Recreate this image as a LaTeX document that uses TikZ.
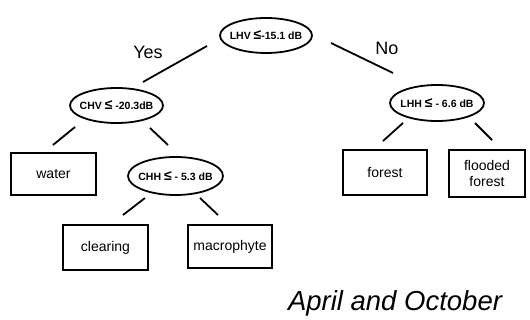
\documentclass[tikz,border=0pt]{standalone}
\usepackage{fontspec}
\setmainfont{Liberation Sans}
\usetikzlibrary{shapes.geometric,calc}
\newcommand{\myle}{{\fontsize{14}{14}\selectfont ≤}}
\tikzset{
  cond/.style={ellipse,draw,line width=1.8pt,inner sep=0pt},
  condtxt/.style={font=\fontsize{10.5}{11}\selectfont\bfseries,inner sep=0pt},
  leaf/.style={rectangle,draw,line width=1.8pt,inner sep=0pt,font=\fontsize{14}{16}\selectfont,align=center},
  edge/.style={line width=1.8pt},
  lbl/.style={font=\fontsize{18}{20}\selectfont}
}
\begin{document}
\begin{tikzpicture}[x=1pt,y=-1pt]
\useasboundingbox (0,0) rectangle (530,320);
\node[cond,minimum width=92pt,minimum height=35pt,label={[condtxt]center:LHV \myle-15.1 dB}] (top) at (266,35.5) {};
\node[cond,minimum width=93pt,minimum height=35pt,label={[condtxt]center:CHV \myle\ -20.3dB}] (chv) at (116.5,105.5) {};
\node[cond,minimum width=94pt,minimum height=36pt,label={[condtxt]center:LHH \myle\ - 6.6 dB}] (lhh) at (437,103) {};
\node[cond,minimum width=95pt,minimum height=38pt,label={[condtxt]center:CHH \myle\ - 5.3 dB}] (chh) at (175.5,176) {};
\node[leaf,minimum width=85pt,minimum height=42pt] (water) at (53.5,174) {water};
\node[leaf,minimum width=85pt,minimum height=45pt] (clearing) at (105.5,247.5) {clearing};
\node[leaf,minimum width=84pt,minimum height=43pt] (macro) at (230,246.5) {macrophyte};
\node[leaf,minimum width=84pt,minimum height=45pt] (forest) at (385,172.5) {forest};
\node[leaf,minimum width=76pt,minimum height=47pt] (flooded) at (487,173.5) {flooded\\forest};
\node[lbl] (yes) at (148,52) {Yes};
\node[lbl] (no) at (387,48) {No};
\node[font=\fontsize{27.5}{29}\selectfont\itshape] (title) at (395,303) {April and October};
\draw[edge] ($(top)+(-59,10.5)$) -- ($(chv)+(26.5,-23.5)$);
\draw[edge] ($(top)+(65,7.5)$) -- ($(lhh)+(-44,-30)$);
\draw[edge] ($(chv)+(-41.5,21.5)$) -- ($(water)+(-0.5,-29)$);
\draw[edge] ($(chv)+(33.5,22.5)$) -- ($(chh)+(-7.5,-31)$);
\draw[edge] ($(chh)+(-30.5,22)$) -- ($(clearing)+(17.5,-32.5)$);
\draw[edge] ($(chh)+(24.5,22)$) -- ($(macro)+(-12,-31.5)$);
\draw[edge] ($(lhh)+(-34,20)$) -- ($(forest)+(-2,-31.5)$);
\draw[edge] ($(lhh)+(38,20)$) -- ($(flooded)+(5,-33.5)$);
\end{tikzpicture}
\end{document}
